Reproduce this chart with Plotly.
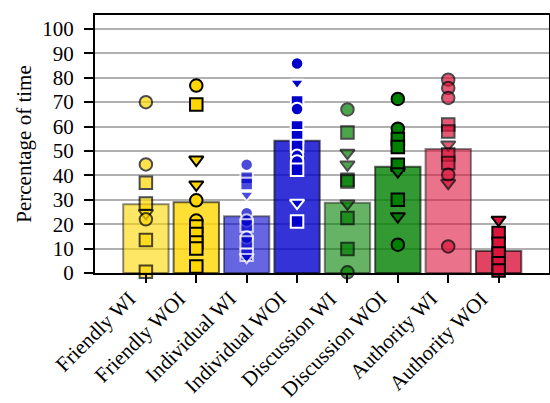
import plotly.graph_objects as go

categories = ["Friendly WI", "Friendly WOI", "Individual WI", "Individual WOI",
              "Discussion WI", "Discussion WOI", "Authority WI", "Authority WOI"]
bar_values = [28.2, 29.0, 23.2, 54.2, 28.8, 43.5, 50.8, 9.0]

friendly_wi_vals = [70, 44.5, 37, 28.5, 24.5, 22, 13.5, 0.5]
friendly_wi_syms = ["circle", "circle", "square", "square", "triangle-down", "circle", "square", "square"]
friendly_woi_vals = [76.8, 69, 46.4, 36.2, 29.8, 21.5, 19, 16, 12.5, 10, 2.7]
friendly_woi_syms = ["circle", "square", "triangle-down", "triangle-down", "circle", "circle",
                     "square", "square", "square", "square", "square"]
individual_wi_vals = [44.4, 39, 36.5, 32, 24.5, 21.5, 19.5, 14.5, 12.5, 7.5, 6.5]
individual_wi_syms = ["circle", "square", "square", "triangle-down", "circle", "circle",
                      "square", "circle", "square", "square", "triangle-down"]
individual_woi_vals = [85.8, 77.9, 70.3, 67.2, 60, 56, 52, 48, 45.7, 42.3, 28.7, 21.1]
individual_woi_syms = ["circle", "triangle-down", "square", "circle", "square", "square",
                       "square", "circle", "circle", "square", "triangle-down", "square"]
discussion_wi_vals = [67, 57.6, 49.2, 44.4, 38.2, 37.5, 28.4, 22.5, 9.8, 0.3]
discussion_wi_syms = ["circle", "square", "triangle-down", "triangle-down", "square", "square",
                      "triangle-down", "square", "square", "circle"]
discussion_woi_vals = [71.3, 59.1, 54.9, 51.6, 44.4, 41.6, 30, 23.2, 11.6]
discussion_woi_syms = ["circle", "circle", "square", "square", "square", "triangle-down",
                       "square", "triangle-down", "circle"]
authority_wi_vals = [79.2, 75.8, 71.7, 60.8, 58, 52.6, 48.5, 45.1, 40.3, 36.9, 10.9]
authority_wi_syms = ["circle", "circle", "circle", "square", "square", "triangle-down",
                     "square", "square", "circle", "triangle-down", "circle"]
authority_woi_vals = [21.8, 16.4, 12, 8, 4, 1]
authority_woi_syms = ["triangle-down", "square", "square", "square", "square", "square"]

point_vals = [friendly_wi_vals, friendly_woi_vals, individual_wi_vals, individual_woi_vals,
              discussion_wi_vals, discussion_woi_vals, authority_wi_vals, authority_woi_vals]
point_syms = [friendly_wi_syms, friendly_woi_syms, individual_wi_syms, individual_woi_syms,
              discussion_wi_syms, discussion_woi_syms, authority_wi_syms, authority_woi_syms]

base_rgb = [(255, 215, 0), (255, 215, 0), (0, 0, 205), (0, 0, 205),
            (0, 128, 0), (0, 128, 0), (220, 20, 60), (220, 20, 60)]
edge_rgb = [(0, 0, 0), (0, 0, 0), (255, 255, 255), (255, 255, 255),
            (0, 0, 0), (0, 0, 0), (0, 0, 0), (0, 0, 0)]


def rgba(c, a):
    return "rgba(%d,%d,%d,%.2f)" % (c[0], c[1], c[2], a)


bar_alpha = [0.6 if i % 2 == 0 else 0.8 for i in range(8)]
pt_alpha = [0.7 if i % 2 == 0 else 1.0 for i in range(8)]

FONT = "Liberation Serif"
FS = 21
fig = go.Figure()
fig.add_trace(go.Bar(
    x=list(range(8)), y=bar_values, width=0.9,
    marker=dict(color=[rgba(c, a) for c, a in zip(base_rgb, bar_alpha)],
                line=dict(color=[rgba((0, 0, 0), a * 0.75) for a in bar_alpha], width=2)),
    showlegend=False, hoverinfo="skip"))

for i in range(8):
    fig.add_trace(go.Scatter(
        x=[i] * len(point_vals[i]), y=point_vals[i], mode="markers",
        marker=dict(symbol=point_syms[i], size=12.5, color=rgba(base_rgb[i], 1.0),
                    opacity=pt_alpha[i],
                    line=dict(color=rgba(edge_rgb[i], 1.0), width=2)),
        showlegend=False, cliponaxis=False))

# category labels drawn as rotated annotations under each tick
for i, name in enumerate(categories):
    fig.add_annotation(x=i, y=0, xref="x", yref="y", text=name, showarrow=False,
                       textangle=-45, xanchor="right", yanchor="top",
                       xshift=-3, yshift=-11,
                       font=dict(family=FONT, size=FS, color="black"))

fig.update_layout(
    width=550, height=403,
    margin=dict(l=95, r=1, t=15, b=130),
    paper_bgcolor="white", plot_bgcolor="white",
    font=dict(family=FONT, size=FS, color="black"),
    xaxis=dict(range=[-1.01, 8.0], tickmode="array", tickvals=list(range(8)),
               showticklabels=False, ticks="outside", ticklen=8,
               tickwidth=2, tickcolor="black", showline=True, linecolor="black",
               linewidth=2, mirror=True, showgrid=False, zeroline=False,
               automargin=False),
    yaxis=dict(range=[0, 105.7], tickmode="array", tickvals=list(range(0, 101, 10)),
               ticks="outside", ticklen=9, tickwidth=2, tickcolor="black",
               showline=True, linecolor="black", linewidth=2, mirror=True,
               showgrid=True, gridcolor="#b0b0b0", gridwidth=1.5, zeroline=False,
               automargin=False, ticklabelstandoff=6,
               tickfont=dict(family=FONT, size=FS, color="black"),
               title=dict(text="Percentage of time", standoff=5,
                          font=dict(family=FONT, size=FS, color="black"))),
)

fig.write_html("out.html", config={"displayModeBar": False},
               post_script="document.body.style.margin='0';document.body.style.overflow='hidden';")
